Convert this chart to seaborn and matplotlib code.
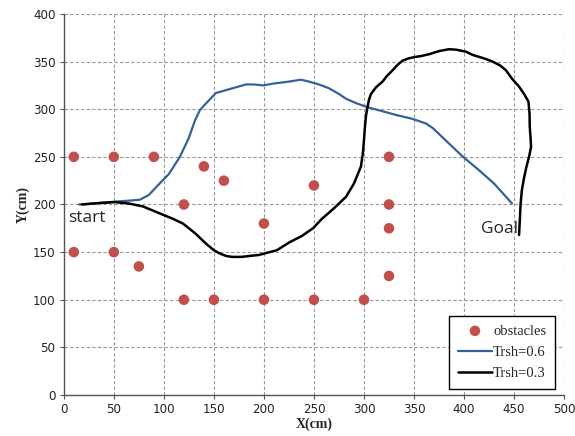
import matplotlib
matplotlib.use("Agg")
import matplotlib.pyplot as plt
import seaborn as sns
import pandas as pd

# Obstacles
obs_x = [10, 50, 90, 140, 160, 120, 200, 250, 325, 325, 325, 10, 50, 75, 120, 150, 200, 250, 300, 325]
obs_y = [250, 250, 250, 240, 225, 200, 180, 220, 250, 200, 175, 150, 150, 135, 100, 100, 100, 100, 100, 125]

# Path with Trsh=0.6
t6_x = [15, 30, 51, 65, 76, 85, 93, 105, 116, 125, 131, 136, 142, 152, 162, 172, 182, 190, 199, 210,
        225, 237, 245, 255, 265, 275, 282, 293, 304, 318, 332, 348, 362, 369, 379, 390, 399, 415, 430, 448]
t6_y = [200, 201, 203, 204, 205, 210, 219, 232, 250, 270, 288, 299, 306, 317, 320, 323, 326, 326, 325, 327,
        329, 331, 329, 326, 322, 316, 311, 306, 302, 298, 294, 290, 285, 280, 270, 259, 250, 236, 222, 201]

# Path with Trsh=0.3
t3_x = [18, 35, 51, 65, 79, 95, 109, 119, 131, 142, 150, 155, 162, 168, 178, 186, 195, 202, 213, 225,
        238, 249, 258, 270, 282, 290, 297, 299, 300, 301, 302, 303.5, 305, 307, 312, 318.6, 323, 328.7, 333, 338.6,
        345, 352, 358, 366, 375, 385, 392, 402, 408.6, 415, 421, 428.5, 436, 441.8, 448, 455, 460, 464.4, 465.5, 465.7,
        466.5, 467, 465, 462.4, 460, 457.8, 456.5, 455.8, 455]
t3_y = [200, 201.5, 202.5, 201, 198, 191, 185, 180, 170, 159, 152, 149, 146, 145, 145, 146, 147, 149, 152, 160,
        167, 175, 185, 196, 208, 222, 240, 255, 268, 282, 293, 302, 310, 316, 323, 329, 335, 341, 346, 351,
        353.5, 355, 356, 358, 361, 363, 362.5, 360.4, 357, 355, 353, 350, 346, 341, 332, 323.7, 316, 308, 295, 281.6,
        270, 260.6, 250, 239.7, 228, 215, 200, 183.7, 168]

ticks = [0, 50, 100, 150, 200, 250, 300, 350, 400, 450, 500]
yticks = [0, 50, 100, 150, 200, 250, 300, 350, 400]

sns.set_style("white")
plt.rcParams['font.family'] = ['DejaVu Sans']

fig = plt.figure(figsize=(5.75, 4.36), dpi=100)
ax = fig.add_axes([0.111, 0.094, 0.870, 0.874])

df_obs = pd.DataFrame({"x": obs_x, "y": obs_y})
df6 = pd.DataFrame({"x": t6_x, "y": t6_y})
df3 = pd.DataFrame({"x": t3_x, "y": t3_y})

sns.scatterplot(data=df_obs, x="x", y="y", ax=ax, color="#C0504D", s=58, edgecolor="none",
                label="obstacles", zorder=3)
sns.lineplot(data=df6, x="x", y="y", ax=ax, sort=False, estimator=None, color="#35609B",
             linewidth=1.6, label="Trsh=0.6", zorder=4)
sns.lineplot(data=df3, x="x", y="y", ax=ax, sort=False, estimator=None, color="#000000",
             linewidth=1.8, label="Trsh=0.3", zorder=4)

ax.set_xlim(0, 500)
ax.set_ylim(0, 400)
ax.set_xticks(ticks)
ax.set_yticks(yticks)
ax.tick_params(axis='both', labelsize=8.6, colors='#555555', length=3, width=0.8, direction='out',
               bottom=True, left=True, pad=3)
for t in ax.get_xticklabels() + ax.get_yticklabels():
    t.set_color('#222222')

ax.grid(True, linestyle=(0, (3, 2)), color='#999999', linewidth=0.8)
ax.set_axisbelow(True)
for s in ['top', 'right']:
    ax.spines[s].set_visible(False)
for s in ['left', 'bottom']:
    ax.spines[s].set_color('#555555')
    ax.spines[s].set_linewidth(1.0)

ax.set_xlabel("X(cm)", fontfamily="Liberation Serif", fontweight="bold", fontsize=10, labelpad=1)
ax.set_ylabel("Y(cm)", fontfamily="Liberation Serif", fontweight="bold", fontsize=10, labelpad=2)

ax.text(4, 186, "start", fontfamily="Open Sans", fontsize=12.5, va="center", ha="left")
ax.text(454, 174, "Goal", fontfamily="Open Sans", fontsize=12.5, va="center", ha="right")

leg = ax.legend(loc="lower right", bbox_to_anchor=(0.982, 0.016), frameon=True, fancybox=False,
                prop={"family": "Liberation Serif", "size": 10.5}, handlelength=2.3, handletextpad=0.1,
                labelspacing=0.55, borderpad=0.6, borderaxespad=0)
leg.get_frame().set_edgecolor("black")
leg.get_frame().set_linewidth(1.0)
leg.get_frame().set_alpha(1)

fig.savefig("out.png", dpi=100)
